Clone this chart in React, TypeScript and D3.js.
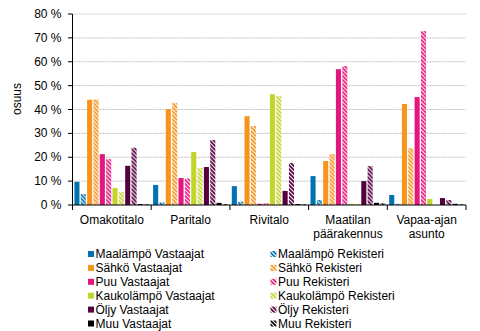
import React from "react";
import * as d3 from "d3";

const categories = ["Omakotitalo", "Paritalo", "Rivitalo", "Maatilan päärakennus", "Vapaa-ajan asunto"];
const fuels = ["Maalämpö", "Sähkö", "Puu", "Kaukolämpö", "Öljy", "Muu"];
const fuelColors = ["#0073B0", "#F7941D", "#E4177F", "#C3D52C", "#55003F", "#000000"];
const yTicks = [0, 10, 20, 30, 40, 50, 60, 70, 80];

const maalampoVastaajat = [9.7, 8.4, 7.9, 12.1, 4.2];
const maalampoRekisteri = [4.6, 1.1, 1.4, 2.1, 0.5];
const sahkoVastaajat = [44.1, 40.2, 37.2, 18.4, 42.3];
const sahkoRekisteri = [44.2, 42.7, 33.1, 21.3, 23.8];
const puuVastaajat = [21.3, 11.3, 0.5, 56.9, 45.2];
const puuRekisteri = [19.2, 11.1, 0.7, 58.2, 72.8];
const kaukoVastaajat = [7.1, 22.2, 46.4, 0.5, 2.5];
const kaukoRekisteri = [5.4, 15.5, 45.6, 0.5, 0];
const oljyVastaajat = [16.4, 15.9, 5.9, 10.0, 2.9];
const oljyRekisteri = [24.0, 27.2, 17.6, 16.3, 2.1];
const muuVastaajat = [0.4, 0.9, 0.4, 0.9, 0.5];
const muuRekisteri = [0.3, 0.4, 0.3, 0.7, 0.3];

const vastaajat = [maalampoVastaajat, sahkoVastaajat, puuVastaajat, kaukoVastaajat, oljyVastaajat, muuVastaajat];
const rekisteri = [maalampoRekisteri, sahkoRekisteri, puuRekisteri, kaukoRekisteri, oljyRekisteri, muuRekisteri];

type Series = { key: string; label: string; fuel: number; hatched: boolean; values: number[] };
const series: Series[] = [];
fuels.forEach((f, i) => {
  series.push({ key: `v${i}`, label: `${f} Vastaajat`, fuel: i, hatched: false, values: vastaajat[i] });
  series.push({ key: `r${i}`, label: `${f} Rekisteri`, fuel: i, hatched: true, values: rekisteri[i] });
});

const FONT = "'Liberation Sans', Arial, sans-serif";

export default function App() {
  const left = 72.5;
  const right = 466;
  const top = 14;
  const bottom = 205;

  const x0 = d3.scaleBand<string>().domain(categories).range([left, right]).padding(0);
  const x1 = d3
    .scaleBand<string>()
    .domain(series.map((s) => s.key))
    .range([0, x0.bandwidth()])
    .paddingInner(0.2)
    .paddingOuter(0.3);
  const y = d3.scaleLinear().domain([0, 80]).range([bottom, top]);

  const boundaries = categories.map((c) => x0(c) as number).concat([right]);

  const legendRowY = (i: number) => 254 + i * 13.9;

  return (
    <svg
      width={480}
      height={331}
      style={{ position: "absolute", left: 0, top: 0, background: "#fff" }}
      fontFamily={FONT}
    >
      <defs>
        {fuelColors.map((c, i) => (
          <pattern key={i} id={`hatch${i}`} patternUnits="userSpaceOnUse" width={4} height={4}>
            <rect width={4} height={4} fill={c} />
            <path d="M-1,-1 L5,5 M-1,3 L1,5 M3,-1 L5,1" stroke="#fff" strokeWidth={1.1} />
          </pattern>
        ))}
      </defs>

      {/* gridlines */}
      {yTicks
        .filter((t) => t > 0)
        .map((t) => (
          <line
            key={t}
            x1={left}
            x2={right}
            y1={y(t)}
            y2={y(t)}
            stroke={t === 80 ? "#D9D9D9" : "#BFBFBF"}
            strokeWidth={1}
            strokeDasharray={t === 80 ? undefined : "2,1"}
          />
        ))}

      {/* bars */}
      {categories.map((c, ci) => (
        <g key={c} transform={`translate(${x0(c)},0)`}>
          {series.map((s) => {
            const v = s.values[ci];
            const yy = y(v);
            return (
              <rect
                key={s.key}
                x={x1(s.key)}
                y={yy}
                width={x1.bandwidth()}
                height={bottom - yy}
                fill={s.hatched ? `url(#hatch${s.fuel})` : fuelColors[s.fuel]}
              />
            );
          })}
        </g>
      ))}

      {/* y axis */}
      <line x1={left} x2={left} y1={top} y2={bottom} stroke="#000" />
      {yTicks.map((t) => (
        <g key={t}>
          <line x1={left - 4.5} x2={left} y1={y(t)} y2={y(t)} stroke="#000" />
          <text x={61.5} y={y(t) + 4} textAnchor="end" fontSize={12} fill="#000">
            {`${t} %`}
          </text>
        </g>
      ))}
      <text transform="translate(21,99) rotate(-90)" textAnchor="middle" fontSize={12} fill="#000">
        osuus
      </text>

      {/* x axis */}
      <line x1={left} x2={right} y1={bottom} y2={bottom} stroke="#000" />
      {boundaries.map((b, i) => (
        <line key={i} x1={b} x2={b} y1={bottom} y2={bottom + 5} stroke="#000" />
      ))}
      {categories.map((c) => {
        const lines = c.split(" ");
        const cx = (x0(c) as number) + x0.bandwidth() / 2;
        return lines.map((l, li) => (
          <text key={c + li} x={cx} y={224 + li * 13.5} textAnchor="middle" fontSize={12} fill="#000">
            {l}
          </text>
        ));
      })}

      {/* legend */}
      {series.map((s) => {
        const row = s.fuel;
        const col = s.hatched ? 1 : 0;
        const ix = col === 0 ? 88 : 270.5;
        const cy = legendRowY(row);
        return (
          <g key={s.key}>
            <rect
              x={ix}
              y={cy - 3}
              width={6}
              height={6}
              fill={s.hatched ? `url(#hatch${s.fuel})` : fuelColors[s.fuel]}
            />
            <text x={ix + 7.5} y={cy + 4.3} fontSize={12} fill="#000">
              {s.label}
            </text>
          </g>
        );
      })}
    </svg>
  );
}
